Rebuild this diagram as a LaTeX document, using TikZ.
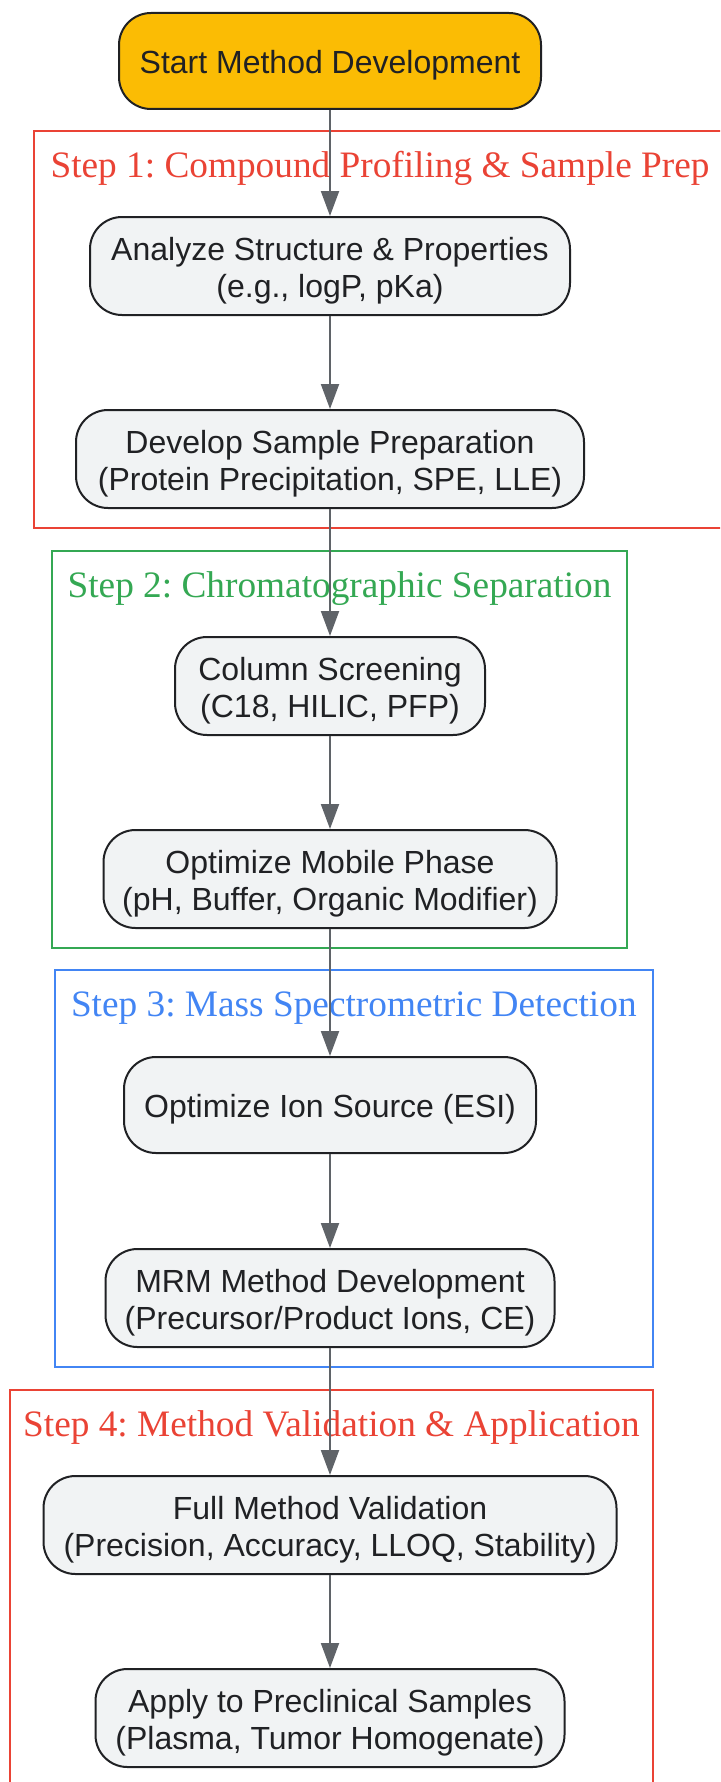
\documentclass[tikz,border=0pt]{standalone}
\usepackage{fontspec}
\usetikzlibrary{arrows.meta}
\newfontfamily\sansfam{Liberation Sans}
\newfontfamily\seriffam{Liberation Serif}
\definecolor{gyellow}{HTML}{FBBC04}
\definecolor{nodefill}{HTML}{F1F3F4}
\definecolor{nodeline}{HTML}{202124}
\definecolor{txtcol}{HTML}{202124}
\definecolor{arrcol}{HTML}{5F6368}
\definecolor{gred}{HTML}{EA4335}
\definecolor{ggreen}{HTML}{34A853}
\definecolor{gblue}{HTML}{4285F4}
\newcommand\topstrut{\rule{0pt}{32pt}}
\newcommand\botstrut{\rule[-7pt]{0pt}{7pt}}
\frenchspacing
\begin{document}
\begin{tikzpicture}[x=1pt,y=-1pt,
  proc/.style={draw=nodeline, fill=nodefill, line width=2pt, rounded corners=32pt,
    align=center, text=txtcol, font=\sansfam\frenchspacing\fontsize{32}{37}\selectfont,
    inner sep=0pt, minimum height=98pt},
  cluster/.style={line width=2pt},
  ctitle/.style={anchor=base, font=\seriffam\frenchspacing\fontsize{37.3}{44}\selectfont, inner sep=0pt},
  arr/.style={draw=arrcol, line width=2pt, -{Triangle[width=18pt,length=25pt]}}]
\fill[white] (0,0) rectangle (720,1782);
\useasboundingbox (0,0) rectangle (720,1782);
\clip (0,0) rectangle (720,1782);

% clusters
\draw[cluster, draw=gred] (34,131) rectangle (726,528);
\node[ctitle, text=gred] (t1) at (380,177) {Step 1: Compound Profiling \& Sample Prep};
\draw[cluster, draw=ggreen] (52,551) rectangle (627,948);
\node[ctitle, text=ggreen] (t2) at (339.5,597) {Step 2: Chromatographic Separation};
\draw[cluster, draw=gblue] (54.5,970) rectangle (653,1367);
\node[ctitle, text=gblue] (t3) at (353.8,1016) {Step 3: Mass Spectrometric Detection};
\draw[cluster, draw=gred] (10,1390) rectangle (652.7,1787);
\node[ctitle, text=gred] (t4) at (331.4,1436) {Step 4: Method Validation \& Application};

% nodes
\node[proc, fill=gyellow, minimum width=422pt, minimum height=96pt] (start) at (330,61)
  {\topstrut Start Method Development\botstrut};
\node[proc, minimum width=480pt] (an) at (330,266)
  {\topstrut Analyze Structure \& Properties\\(e.g., logP, pKa)\botstrut};
\node[proc, minimum width=508pt] (dev) at (330,459)
  {\topstrut Develop Sample Preparation\\(Protein Precipitation, SPE, LLE)\botstrut};
\node[proc, minimum width=310pt] (col) at (330,686)
  {\topstrut Column Screening\\(C18, HILIC, PFP)\botstrut};
\node[proc, minimum width=453pt] (mob) at (330,879)
  {\topstrut Optimize Mobile Phase\\(pH, Buffer, Organic Modifier)\botstrut};
\node[proc, minimum width=412pt, minimum height=96pt] (ion) at (330,1105)
  {\topstrut Optimize Ion Source (ESI)\botstrut};
\node[proc, minimum width=449pt] (mrm) at (330,1298)
  {\topstrut MRM Method Development\\(Precursor/Product Ions, CE)\botstrut};
\node[proc, minimum width=573pt] (val) at (330,1525)
  {\topstrut Full Method Validation\\(Precision, Accuracy, LLOQ, Stability)\botstrut};
\node[proc, minimum width=469pt] (app) at (330,1718)
  {\topstrut Apply to Preclinical Samples\\(Plasma, Tumor Homogenate)\botstrut};

% connectors
\draw[arr] (start) -- (an);
\draw[arr] (an) -- (dev);
\draw[arr] (dev) -- (col);
\draw[arr] (col) -- (mob);
\draw[arr] (mob) -- (ion);
\draw[arr] (ion) -- (mrm);
\draw[arr] (mrm) -- (val);
\draw[arr] (val) -- (app);
\end{tikzpicture}
\end{document}
